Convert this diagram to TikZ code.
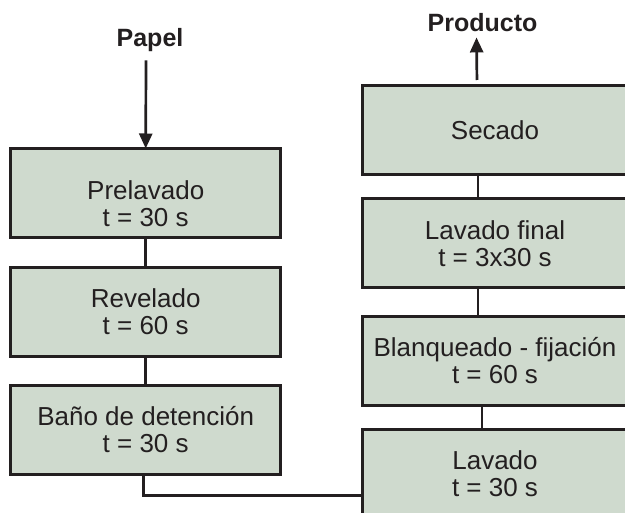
\documentclass[tikz,border=0pt]{standalone}
\usepackage{fontspec}
\setmainfont{Liberation Sans}
\usetikzlibrary{arrows.meta}
\definecolor{caja}{RGB}{207,218,206}
\definecolor{tinta}{RGB}{35,31,32}

\begin{document}
\begin{tikzpicture}[x=1pt,y=-1pt,
  etapa/.style={draw=tinta, line width=3pt, fill=caja, text=tinta,
    minimum height=89pt, inner sep=0pt, align=center,
    font=\fontsize{26}{27}\selectfont},
  izq/.style={etapa, minimum width=270pt},
  der/.style={etapa, minimum width=266pt},
  linea/.style={draw=tinta, line width=2.7pt},
  flecha/.style={linea, -{Triangle[length=15pt,width=13pt]}},
  rotulo/.style={text=tinta, inner sep=5pt,
    font=\fontsize{25}{27}\selectfont\bfseries}]
\useasboundingbox (0,0) rectangle (625,513);
\clip (0,0) rectangle (625,513);

\node[rotulo, anchor=base] (papel) at (150,47) {Papel};
\node[rotulo, anchor=base] (producto) at (482.5,32) {Producto};

\node[izq] (prelavado) at (145.7,193.5) {\rule{0pt}{40pt}Prelavado\\t = 30 s};
\node[izq] (revelado) at (145.7,312) {Revelado\\t = 60 s};
\node[izq] (detencion) at (145.7,429.7) {Baño de detención\\t = 30 s};

\node[der] (secado) at (495,130) {Secado};
\node[der] (final) at (495,243.4) {Lavado final\\t = 3x30 s};
\node[der] (fijacion) at (495,360.8) {Blanqueado - fijación\\t = 60 s};
\node[der] (lavado) at (495,474.2) {Lavado\\t = 30 s};

\draw[flecha] ([xshift=-4pt,yshift=-3pt]papel.south) -- ([yshift=-1pt]prelavado.north);
\draw[flecha, shorten <=4pt] ([xshift=-18pt]secado.north) -- ([xshift=-6pt]producto.south);

\foreach \a/\b in {prelavado/revelado, revelado/detencion}
  \draw[linea] (\a.south) -- (\b.north);
\draw[linea] ([xshift=-17pt]secado.south) -- ([xshift=-17pt]final.north);
\draw[linea] ([xshift=-17pt]final.south) -- ([xshift=-17pt]fijacion.north);
\draw[linea] ([xshift=-13pt]fijacion.south) -- ([xshift=-13pt]lavado.north);

\coordinate (codo) at ([xshift=-2pt,yshift=-20pt]detencion.south);
\draw[linea] ([xshift=-2pt]detencion.south) -- (codo) -- (codo -| lavado.west);
\end{tikzpicture}
\end{document}
